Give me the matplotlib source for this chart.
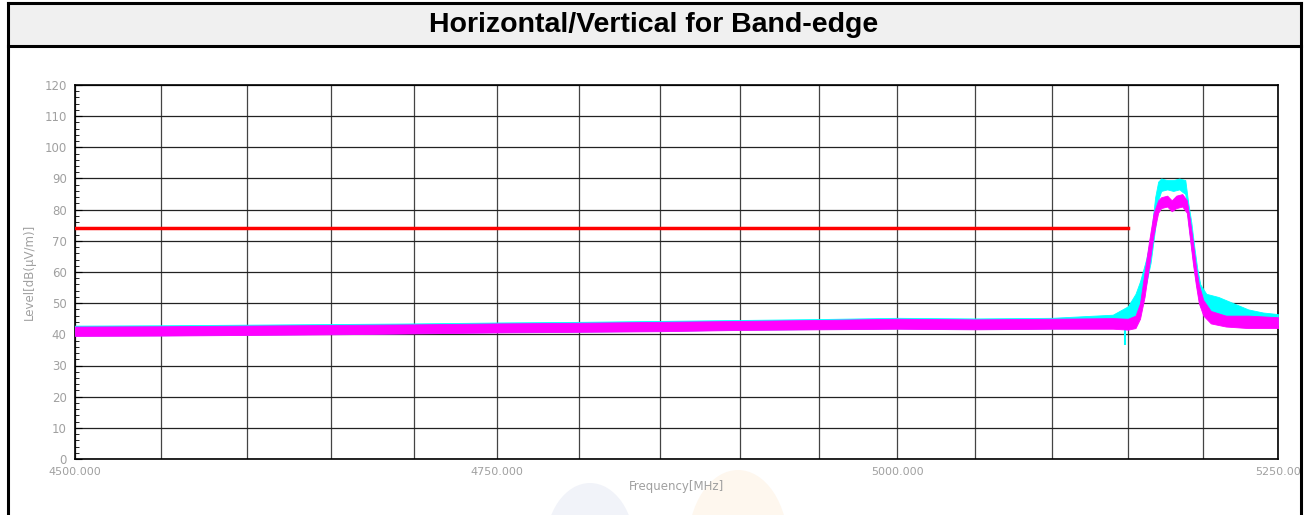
import matplotlib.pyplot as plt
from matplotlib.patches import Rectangle, Ellipse
from matplotlib.lines import Line2D
from matplotlib.ticker import FixedLocator, NullFormatter, MultipleLocator

# limit line (dBuV/m) up to the band edge
limit_freq = [4500, 5150]
limit_level = [74, 74]

# vertical polarisation (cyan) envelope
cyan_freq = [4500, 4550, 4600, 4650, 4700, 4750, 4800, 4850, 4900, 4950, 5000,
             5050, 5100, 5140, 5150, 5155, 5158, 5162, 5165, 5168, 5170, 5172,
             5176, 5180, 5184, 5188, 5190, 5192, 5194, 5196, 5198, 5202, 5210,
             5220, 5230, 5240, 5250]
cyan_low = [39.6, 39.7, 39.9, 40.1, 40.4, 40.7, 40.9, 41.1, 41.5, 41.7, 41.9,
            41.7, 41.9, 42.0, 43.5, 46.0, 50.0, 56.0, 63.0, 74.0, 83.0, 86.0,
            86.5, 86.0, 86.5, 85.0, 76.0, 68.0, 60.0, 54.0, 49.0, 46.0, 45.0,
            44.0, 43.5, 43.0, 43.0]
cyan_high = [42.8, 42.9, 43.1, 43.3, 43.5, 43.8, 44.0, 44.3, 44.6, 44.9, 45.3,
             45.1, 45.3, 46.3, 49.0, 53.0, 57.0, 64.0, 71.0, 84.0, 89.0, 90.0,
             89.5, 89.5, 90.0, 89.5, 82.0, 76.0, 68.0, 61.0, 56.0, 53.0, 52.0,
             50.0, 48.0, 47.0, 46.5]

# horizontal polarisation (magenta) envelope
mag_freq = [4500, 4550, 4600, 4650, 4700, 4750, 4800, 4850, 4900, 4950, 5000,
            5050, 5100, 5140, 5150, 5155, 5158, 5161, 5164, 5167, 5170, 5172,
            5176, 5179, 5182, 5186, 5189, 5191, 5193, 5195, 5197, 5200, 5205,
            5215, 5230, 5250]
mag_low = [39.5, 39.6, 39.8, 40.0, 40.3, 40.6, 40.8, 41.0, 41.4, 41.6, 41.8,
           41.6, 41.8, 41.8, 41.5, 42.0, 45.0, 52.0, 62.0, 72.0, 79.0, 80.5,
           81.0, 79.5, 80.5, 81.0, 79.0, 71.0, 63.0, 56.0, 50.0, 46.0, 43.5,
           42.5, 42.0, 42.0]
mag_high = [42.5, 42.6, 42.8, 43.0, 43.2, 43.5, 43.7, 44.0, 44.3, 44.6, 45.0,
            44.8, 45.0, 45.2, 45.0, 46.0, 50.0, 60.0, 70.0, 79.0, 83.0, 84.0,
            84.5, 83.0, 84.5, 85.0, 83.0, 77.0, 70.0, 62.0, 56.0, 51.0, 47.5,
            46.0, 46.0, 45.5]

# single downward glitch on the cyan trace
glitch_freq = [5148]
glitch_low = [36.6]
glitch_high = [44.0]

x_ticks = [4500, 4750, 5000, 5250]
x_labels = ["4500.000", "4750.000", "5000.000", "5250.00"]
x_grid = list(range(4500, 5251, 50))
y_ticks = list(range(0, 121, 10))

fig = plt.figure(figsize=(13.06, 5.15), dpi=100)

# title band and frame
fig.patches.append(Rectangle((7 / 1306, 1 - 46 / 515), 1294 / 1306, 43 / 515,
                             transform=fig.transFigure, facecolor="#f0f0f0",
                             edgecolor="none", zorder=-2))
for xs, ys in [([8, 8], [3, 515]), ([1301, 1301], [3, 515]),
               ([8, 1301], [3, 3]), ([8, 1301], [46, 46])]:
    fig.lines.append(Line2D([v / 1306 for v in xs], [1 - v / 515 for v in ys],
                            transform=fig.transFigure, color="black", lw=2.2))
fig.text(654 / 1306, 1 - 25 / 515, "Horizontal/Vertical for Band-edge",
         ha="center", va="center", fontsize=20.5, fontweight="bold",
         family="Liberation Sans")

# faint watermark
fig.patches.append(Ellipse((590 / 1306, 1 - 548 / 515), 90 / 1306, 130 / 515,
                           transform=fig.transFigure, facecolor="#f1f3f9",
                           edgecolor="none", zorder=-2))
fig.patches.append(Ellipse((738 / 1306, 1 - 545 / 515), 100 / 1306, 150 / 515,
                           transform=fig.transFigure, facecolor="#fef7ee",
                           edgecolor="none", zorder=-2))

ax = fig.add_axes([75 / 1306, 1 - 459 / 515, 1203 / 1306, 374 / 515])
ax.set_zorder(1)
ax.patch.set_facecolor("white")
ax.set_xscale("log")
ax.set_xlim(4500, 5250)
ax.set_ylim(0, 120)

ax.fill_between(cyan_freq, cyan_low, cyan_high, color="#00ffff", lw=0.6,
                edgecolor="#00ffff", zorder=3)
ax.vlines(glitch_freq, glitch_low, glitch_high, color="#00ffff", lw=1.5, zorder=3)
ax.fill_between(mag_freq, mag_low, mag_high, color="#ff00ff", lw=0.6,
                edgecolor="#ff00ff", zorder=4)
ax.plot(limit_freq, limit_level, color="#ff0000", lw=2.5, zorder=5)

for f in x_grid:
    ax.axvline(f, color="#444444", lw=0.9, zorder=1)
for lv in y_ticks:
    ax.axhline(lv, color="#222222", lw=0.9, zorder=1)

ax.xaxis.set_major_locator(FixedLocator(x_ticks))
ax.xaxis.set_minor_locator(FixedLocator([]))
ax.xaxis.set_minor_formatter(NullFormatter())
ax.set_xticklabels(x_labels)
ax.set_yticks(y_ticks)
ax.yaxis.set_minor_locator(MultipleLocator(2))
ax.tick_params(axis="x", length=0, labelsize=8, labelcolor="#a0a0a0", pad=6)
ax.tick_params(axis="y", which="major", direction="in", length=5,
               labelsize=8.5, labelcolor="#a0a0a0", pad=6)
ax.tick_params(axis="y", which="minor", direction="in", length=3)
for s in ax.spines.values():
    s.set_color("black")
    s.set_linewidth(1.2)

ax.set_xlabel("Frequency[MHz]", fontsize=8.5, color="#a0a0a0", labelpad=2)
ax.set_ylabel("Level[dB(μV/m)]", fontsize=8.5, color="#a0a0a0", labelpad=6)

fig.savefig("out.png", dpi=100)
